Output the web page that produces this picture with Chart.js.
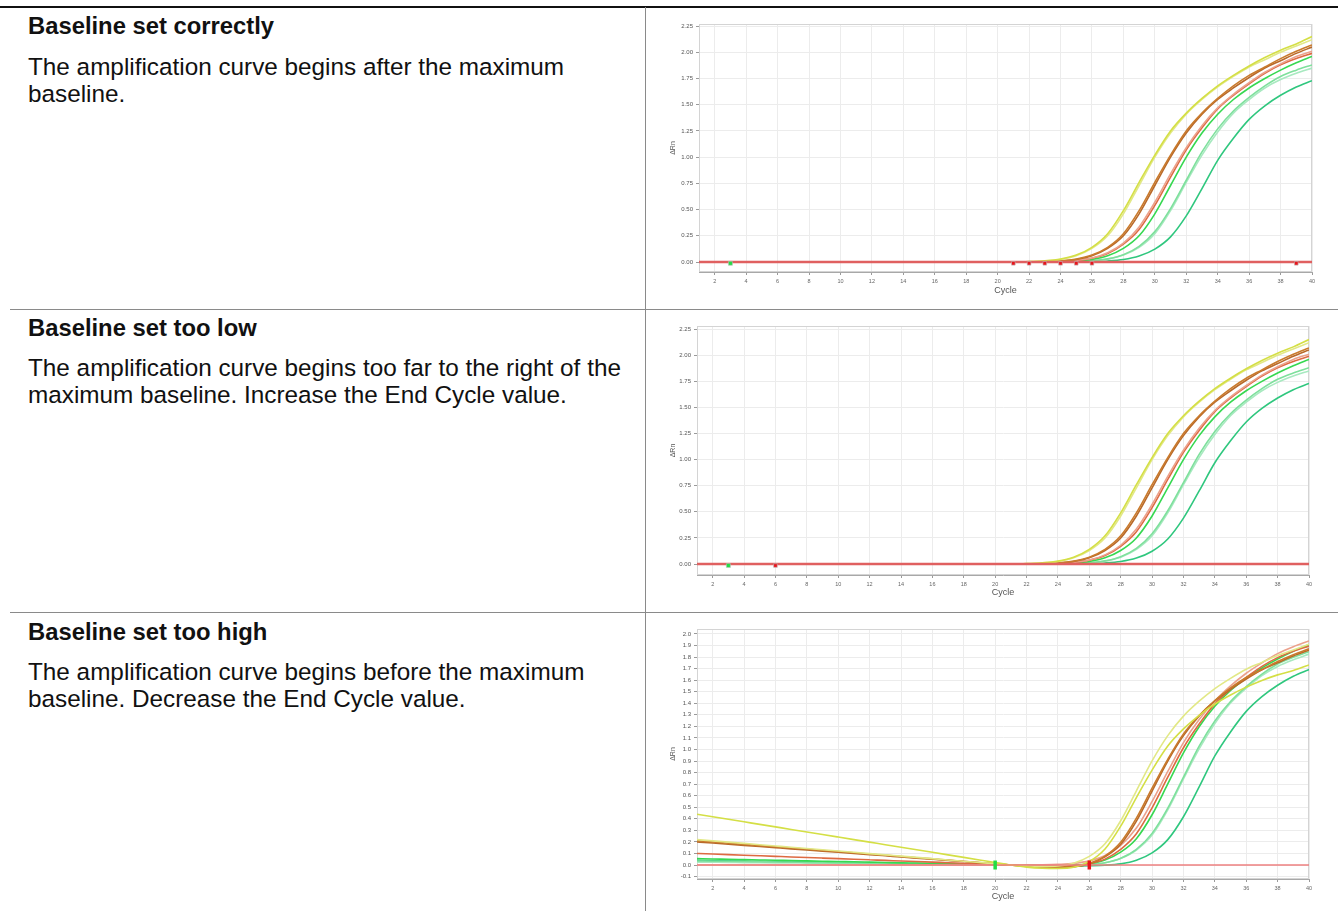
<!DOCTYPE html>
<html><head><meta charset="utf-8">
<script src="https://cdn.jsdelivr.net/npm/chart.js@4.4.1/dist/chart.umd.min.js"></script>
<style>
html,body{margin:0;padding:0;background:#fff;width:1338px;height:911px;overflow:hidden;}
body{position:relative;font-family:"Liberation Sans",Arial,Helvetica,sans-serif;color:#111;}
.rule{position:absolute;}
.title{position:absolute;left:28px;font-weight:bold;font-size:23.8px;line-height:27px;white-space:nowrap;}
.body{position:absolute;left:28px;font-size:24.3px;line-height:27px;white-space:nowrap;}
canvas{position:absolute;}
</style></head><body>
<div class="rule" style="left:0;top:6px;width:1338px;height:2px;background:#111"></div>
<div class="rule" style="left:645px;top:7px;width:1px;height:904px;background:#8a8a8a"></div>
<div class="rule" style="left:10px;top:309px;width:1328px;height:1px;background:#8a8a8a"></div>
<div class="rule" style="left:10px;top:612px;width:1328px;height:1px;background:#8a8a8a"></div>

<div class="title" style="top:12px">Baseline set correctly</div>
<div class="body" style="top:53px">The amplification curve begins after the maximum<br>baseline.</div>
<div class="title" style="top:314px">Baseline set too low</div>
<div class="body" style="top:354px">The amplification curve begins too far to the right of the<br>maximum baseline. Increase the End Cycle value.</div>
<div class="title" style="top:618px">Baseline set too high</div>
<div class="body" style="top:658px">The amplification curve begins before the maximum<br>baseline. Decrease the End Cycle value.</div>

<canvas id="c1" width="672" height="292" style="left:650px;top:12px"></canvas>
<canvas id="c2" width="670" height="292" style="left:650px;top:314px"></canvas>
<canvas id="c3" width="670" height="293" style="left:650px;top:617px"></canvas>

<script>
// ---------- data ----------
const cycles = [1,2,3,4,5,6,7,8,9,10,11,12,13,14,15,16,17,18,19,20,21,22,23,24,25,26,27,28,29,30,31,32,33,34,35,36,37,38,39,40];
const xTickValues = [2,4,6,8,10,12,14,16,18,20,22,24,26,28,30,32,34,36,38,40];
const yTickValuesA = [0,0.25,0.5,0.75,1,1.25,1.5,1.75,2,2.25];
const yTickValuesB = [-0.1,0,0.1,0.2,0.3,0.4,0.5,0.6,0.7,0.8,0.9,1.0,1.1,1.2,1.3,1.4,1.5,1.6,1.7,1.8,1.9,2.0];

// Charts 1 and 2 (flat baseline)
const yellowA   = [0,0,0,0,0,0,0,0,0,0,0,0,0,0,0,0,0,0,0,0,0,0.0045,0.011,0.028,0.066,0.14,0.27,0.49,0.76,1.02,1.25,1.42,1.56,1.68,1.78,1.87,1.95,2.02,2.08,2.15];
const yellowB   = [0,0,0,0,0,0,0,0,0,0,0,0,0,0,0,0,0,0,0,0,0,0.004,0.01,0.025,0.06,0.13,0.25,0.46,0.73,1.0,1.23,1.41,1.55,1.67,1.77,1.86,1.93,2.0,2.06,2.12];
const orangeA   = [0,0,0,0,0,0,0,0,0,0,0,0,0,0,0,0,0,0,0,0,0,0,0.0045,0.011,0.028,0.066,0.14,0.27,0.49,0.76,1.02,1.25,1.42,1.56,1.68,1.78,1.86,1.94,2.01,2.07];
const orangeB   = [0,0,0,0,0,0,0,0,0,0,0,0,0,0,0,0,0,0,0,0,0,0,0.004,0.01,0.025,0.06,0.13,0.25,0.46,0.73,1.0,1.23,1.41,1.55,1.66,1.76,1.85,1.92,1.99,2.05];
const salmon    = [0,0,0,0,0,0,0,0,0,0,0,0,0,0,0,0,0,0,0,0,0,0,0.002,0.007,0.016,0.039,0.088,0.18,0.335,0.57,0.84,1.09,1.30,1.47,1.60,1.71,1.81,1.89,1.96,2.01];
const redOrange = [0,0,0,0,0,0,0,0,0,0,0,0,0,0,0,0,0,0,0,0,0,0,0.002,0.006,0.015,0.036,0.081,0.17,0.31,0.54,0.81,1.07,1.28,1.46,1.59,1.70,1.80,1.88,1.94,1.99];
const green     = [0,0,0,0,0,0,0,0,0,0,0,0,0,0,0,0,0,0,0,0,0,0,0,0.004,0.01,0.025,0.06,0.13,0.25,0.46,0.73,1.0,1.23,1.41,1.55,1.66,1.75,1.83,1.90,1.96];
const lightGreenA = [0,0,0,0,0,0,0,0,0,0,0,0,0,0,0,0,0,0,0,0,0,0,0,0,0.005,0.012,0.03,0.07,0.15,0.29,0.51,0.78,1.05,1.27,1.44,1.57,1.68,1.77,1.83,1.88];
const lightGreenB = [0,0,0,0,0,0,0,0,0,0,0,0,0,0,0,0,0,0,0,0,0,0,0,0,0.0045,0.011,0.028,0.066,0.14,0.27,0.49,0.76,1.02,1.24,1.42,1.55,1.66,1.74,1.80,1.85];
const teal      = [0,0,0,0,0,0,0,0,0,0,0,0,0,0,0,0,0,0,0,0,0,0,0,0,0,0.004,0.01,0.024,0.057,0.123,0.24,0.44,0.70,0.97,1.18,1.36,1.49,1.59,1.67,1.73];
const negControl = [0,0,0,0,0,0,0,0,0,0,0,0,0,0,0,0,0,0,0,0,0,0,0,0,0,0,0,0,0,0,0,0,0,0,0,0,0,0,0,0];

// Chart 3 (baseline end cycle too high -> tilted baselines)
const hYellowA   = [0.44,0.418,0.396,0.374,0.352,0.33,0.308,0.286,0.264,0.242,0.22,0.198,0.176,0.154,0.132,0.11,0.088,0.066,0.044,0.022,0,-0.018,-0.028,-0.03,-0.02,0.03,0.138,0.336,0.584,0.822,1.03,1.178,1.296,1.394,1.472,1.54,1.598,1.646,1.684,1.732];
const hYellowB   = [0.22,0.209,0.198,0.187,0.176,0.165,0.154,0.143,0.132,0.121,0.11,0.099,0.088,0.077,0.066,0.055,0.044,0.033,0.022,0.011,0,-0.007,-0.012,-0.008,0.016,0.075,0.184,0.383,0.642,0.901,1.12,1.289,1.418,1.527,1.616,1.695,1.754,1.813,1.862,1.911];
const hOrangeA   = [0.21,0.2,0.189,0.179,0.168,0.158,0.147,0.137,0.126,0.116,0.105,0.095,0.084,0.074,0.063,0.053,0.042,0.032,0.021,0.011,0,-0.011,-0.017,-0.021,-0.014,0.014,0.077,0.197,0.406,0.666,0.915,1.135,1.294,1.424,1.533,1.623,1.692,1.762,1.821,1.871];
const hOrangeB   = [0.2,0.19,0.18,0.17,0.16,0.15,0.14,0.13,0.12,0.11,0.1,0.09,0.08,0.07,0.06,0.05,0.04,0.03,0.02,0.01,0,-0.01,-0.016,-0.02,-0.015,0.01,0.07,0.18,0.38,0.64,0.9,1.12,1.29,1.42,1.52,1.61,1.69,1.75,1.81,1.86];
const hSalmon    = [0,0,0,0,0,0,0,0,0,0,0,0,0,0,0,0,0,0,0,0,0,0,0.002,0.006,0.014,0.036,0.083,0.17,0.32,0.55,0.81,1.06,1.26,1.42,1.55,1.66,1.75,1.83,1.89,1.94];
const hRedOrange = [0.1,0.095,0.09,0.085,0.08,0.075,0.07,0.065,0.06,0.055,0.05,0.045,0.04,0.035,0.03,0.025,0.02,0.015,0.01,0.005,0,-0.005,-0.008,-0.009,-0.005,0.011,0.051,0.135,0.27,0.495,0.76,1.015,1.22,1.395,1.52,1.625,1.72,1.795,1.85,1.895];
const hGreen     = [0.055,0.052,0.05,0.047,0.044,0.041,0.039,0.036,0.033,0.03,0.028,0.025,0.022,0.019,0.017,0.014,0.011,0.008,0.006,0.003,0,-0.003,-0.006,-0.004,-0.001,0.011,0.043,0.111,0.228,0.435,0.702,0.97,1.197,1.374,1.511,1.619,1.706,1.783,1.85,1.908];
const hLightGreenA = [0.035,0.033,0.032,0.03,0.028,0.026,0.025,0.023,0.021,0.019,0.018,0.016,0.014,0.012,0.011,0.009,0.007,0.005,0.004,0.002,0,-0.002,-0.004,-0.005,-0.002,0.003,0.019,0.058,0.136,0.274,0.492,0.761,1.029,1.247,1.415,1.544,1.652,1.74,1.798,1.847];
const hLightGreenB = [0.025,0.024,0.023,0.021,0.02,0.019,0.018,0.016,0.015,0.014,0.013,0.011,0.01,0.009,0.008,0.006,0.005,0.004,0.003,0.001,0,-0.001,-0.003,-0.004,-0.001,0.005,0.02,0.057,0.13,0.259,0.477,0.746,1.005,1.224,1.402,1.531,1.64,1.719,1.777,1.826];
const hTeal      = [0.04,0.038,0.036,0.034,0.032,0.03,0.028,0.026,0.024,0.022,0.02,0.018,0.016,0.014,0.012,0.01,0.008,0.006,0.004,0.002,0,-0.002,-0.004,-0.006,-0.008,-0.006,-0.002,0.01,0.041,0.105,0.22,0.418,0.676,0.944,1.152,1.33,1.458,1.556,1.634,1.692];

// baseline start / end cycle markers
const startCycles1 = [3];
const endCycles1   = [21,22,23,24,25,26,39];
const startCycles2 = [3];
const endCycles2   = [6];
const startCycles3 = [20];
const endCycles3   = [26];
const markerLevel1 = -0.012;
const markerLevel2 = -0.014;
const markerLevel3 = 0;

// ---------- rendering ----------
const curveColors = ['#d4df45','#e2e886','#c97a2c','#b8692a','#eba18c','#dd6a42','#36d850','#7ee09c','#a8e9c0','#2fc77e'];
const set12 = [yellowA, yellowB, orangeA, orangeB, salmon, redOrange, green, lightGreenA, lightGreenB, teal];
const set3  = [hYellowA, hYellowB, hOrangeA, hOrangeB, hSalmon, hRedOrange, hGreen, hLightGreenA, hLightGreenB, hTeal];

function pts(vals){ return vals.map((v,i)=>({x:cycles[i], y:v})); }

const framePlugin = {
  id:'frame',
  beforeDatasetsDraw(chart){
    const {ctx, chartArea:a} = chart;
    ctx.save(); ctx.strokeStyle='#d4d4d4'; ctx.lineWidth=1;
    ctx.strokeRect(a.left+0.5, a.top+0.5, a.width-1, a.height-1);
    ctx.restore();
  }
};

function makeChart(id, curves, starts, ends, level, yTicks, yMin, yMax, decimals, geo, barMarkers){
  const datasets = [];
  datasets.push({type:'scatter', data: starts.map(c=>({x:c,y:level})), showLine:false,
    pointStyle: barMarkers ? 'line' : 'rect', rotation: barMarkers ? 90 : 0,
    pointRadius: barMarkers ? 4.5 : 2.8, borderWidth: barMarkers ? 3.5 : 0.6,
    backgroundColor:'#22dd44', borderColor: barMarkers ? '#22dd44' : '#bdbdbd'});
  datasets.push({type:'scatter', data: ends.map(c=>({x:c,y:level})), showLine:false,
    pointStyle: barMarkers ? 'line' : 'rect', rotation: barMarkers ? 90 : 0,
    pointRadius: barMarkers ? 4.5 : 2.6, borderWidth: barMarkers ? 3.5 : 0.6,
    backgroundColor:'#e8141c', borderColor: barMarkers ? '#e8141c' : '#bdbdbd'});
  datasets.push({data: pts(negControl), borderColor: barMarkers ? '#ee8080' : '#e06060', borderWidth: barMarkers ? 1.6 : 2.6, pointRadius:0});
  curves.forEach((vals,i)=>{
    datasets.push({data: pts(vals), borderColor: curveColors[i], borderWidth:1.6, pointRadius:0,
      cubicInterpolationMode:'monotone'});
  });
  return new Chart(document.getElementById(id), {
    type:'line',
    data:{datasets},
    plugins:[framePlugin],
    options:{
      responsive:false, animation:false, devicePixelRatio:1,
      layout:{padding:{top:geo.padTop, right:geo.padRight, left:0, bottom:0}},
      plugins:{legend:{display:false}, tooltip:{enabled:false}},
      scales:{
        x:{type:'linear', min:1, max:40,
          afterBuildTicks: s => { s.ticks = xTickValues.map(v=>({value:v})); },
          afterFit: s => { s.height = geo.xHeight; },
          grid:{color:'#ececec', tickColor:'#9a9a9a', tickLength:3},
          border:{color:'#a8a8a8'},
          ticks:{font:{family:'Liberation Sans', size:5.5}, color:'#666', padding:3, maxRotation:0, autoSkip:false},
          title:{display:true, text:'Cycle', font:{family:'Liberation Sans', size:9}, color:'#555', padding:{top:0,bottom:8}}
        },
        y:{type:'linear', min:yMin, max:yMax,
          afterBuildTicks: s => { s.ticks = yTicks.map(v=>({value:v})); },
          afterFit: s => { s.width = geo.yWidth; },
          grid:{color:'#ececec', tickColor:'#9a9a9a', tickLength:3},
          border:{color:'#a8a8a8'},
          ticks:{font:{family:'Liberation Sans', size:6}, color:'#555', padding:3,
            callback: v => Number(v).toFixed(decimals)},
          title:{display:true, text:'ΔRn', font:{family:'Liberation Sans', size:7}, color:'#555', padding:{top:19,bottom:0}}
        }
      }
    }
  });
}

makeChart('c1', set12, startCycles1, endCycles1, markerLevel1, yTickValuesA, -0.095, 2.27, 2,
  {padTop:12, padRight:10, xHeight:32, yWidth:49}, false);
makeChart('c2', set12, startCycles2, endCycles2, markerLevel2, yTickValuesA, -0.105, 2.28, 2,
  {padTop:12, padRight:11, xHeight:31, yWidth:47}, false);
makeChart('c3', set3, startCycles3, endCycles3, markerLevel3, yTickValuesB, -0.121, 2.043, 1,
  {padTop:12, padRight:11, xHeight:31, yWidth:47}, true);
</script>
</body></html>
